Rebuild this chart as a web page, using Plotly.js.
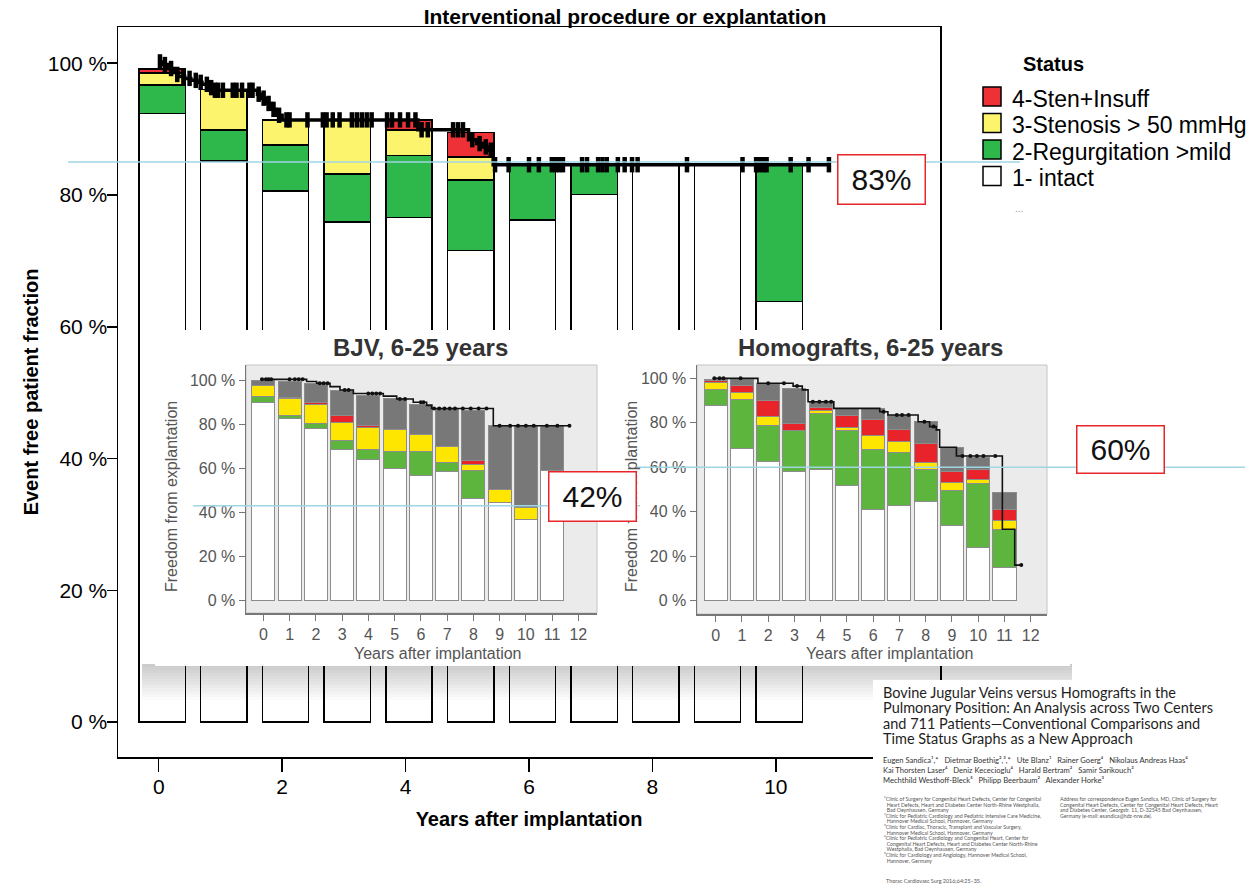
<!DOCTYPE html>
<html><head><meta charset="utf-8">
<script src="https://cdn.plot.ly/plotly-3.0.1.min.js"></script>
<style>
html,body{margin:0;padding:0;background:#fff;}
#main,#over{position:absolute;left:0;top:0;width:1259px;height:894px;}
#over{pointer-events:none;}
</style></head><body>
<div id="main"></div><div id="over"></div>
<script>
// ================= DATA =================
// Main chart: Interventional procedure or explantation (status fractions, %)
const mainYears   = [0,1,2,3,4,5,6,7,8,9,10];
const mainIntact  = [92.4,85.2,80.6,75.9,76.6,71.6,76.2,80.1,84.6,84.6,63.8];
const mainRegurg  = [4.3,4.7,7.0,7.3,9.4,10.7,8.4,4.5,0,0,20.8];
const mainSten    = [1.8,6.1,3.8,8.2,3.9,3.5,0,0,0,0,0];
const mainStenIns = [0.6,0,0,0,1.5,3.7,0,0,0,0,0];
// Kaplan-Meier (event free) step curve
const mainKmT = [0,0.08,0.16,0.24,0.32,0.42,0.52,0.62,0.7,0.8,0.88,1.6,1.66,1.74,1.82,1.9,2.0,4.2,5.02,5.15,5.25,5.36,5.42,10.88];
const mainKmS = [100.2,99.8,99.2,98.6,98.0,97.7,97.4,97.1,96.8,96.3,95.9,95.3,94.7,93.9,93.0,92.1,91.4,89.9,88.4,87.8,87.3,86.8,84.6,84.6];
// censored observations
const mainCensT = [0.02,0.1,0.2,0.3,0.4,0.5,0.6,0.68,0.78,0.85,
  0.91,0.96,1.04,1.2,1.26,1.35,1.47,1.52,
  1.62,1.7,1.78,1.86,1.95,
  2.07,2.12,2.41,2.66,2.72,2.82,2.93,3.13,3.21,3.29,3.37,3.45,3.70,3.78,3.91,4.04,4.16,
  4.26,4.36,4.77,4.85,4.93,
  5.08,5.2,5.3,5.38,
  5.45,5.67,6.0,6.16,6.37,6.43,6.49,6.55,6.86,6.94,7.12,7.19,7.26,7.44,7.55,7.67,7.76,8.56,9.46,9.68,9.74,9.8,9.85,10.24,10.53,10.86];
const mainCensS = [100.2,99.8,99.2,98.3,98.0,97.7,97.4,97.1,96.8,96.3,
  95.9,95.9,95.9,95.9,95.9,95.9,95.9,95.9,
  95.3,94.7,93.9,93.0,92.1,
  91.4,91.4,91.4,91.4,91.4,91.4,91.4,91.4,91.4,91.4,91.4,91.4,91.4,91.4,91.4,91.4,91.4,
  89.9,89.9,89.9,89.9,89.9,
  88.4,87.8,87.3,86.8,
  84.6,84.6,84.6,84.6,84.6,84.6,84.6,84.6,84.6,84.6,84.6,84.6,84.6,84.6,84.6,84.6,84.6,84.6,84.6,84.6,84.6,84.6,84.6,84.6,84.6,84.6];
const mainRefLine = 85.0;
const mainRefLabel = '83%';
const mainTickVals = [0,20,40,60,80,100];
const mainTickText = ['0 %','20 %','40 %','60 %','80 %','100 %'];
const mainXTicks = [0,2,4,6,8,10];
const legendTitle = 'Status';
const legendLabels = ['4-Sten+Insuff','3-Stenosis > 50 mmHg','2-Regurgitation >mild','1- intact'];

// Inset 1: BJV, 6-25 years (freedom from explantation, %)
const insetYears = [0,1,2,3,4,5,6,7,8,9,10,11];
const bjvIntact  = [90,82.6,77.8,68.3,63.8,60,56.6,58.5,46.1,44.3,36.9,59.2];
const bjvRegurg  = [2.5,1.1,2.6,4.1,4.9,7.8,11.2,4.0,13.1,0.3,0,0];
const bjvSten    = [5,7.7,8.7,8.4,9.9,9.9,7.6,7.3,2.3,5.6,5.4,0];
const bjvStenIns = [0,0.5,0.8,3.0,1.0,0,0,0,1.9,0,0,0];
const bjvExpl    = [2.5,7.3,8.3,11.4,13.3,14.0,13.3,17.1,23.0,29.1,37.0,20.1];
const bjvKmT = [-0.1,1.65,2.03,2.54,2.92,3.43,4.57,5.08,5.71,6.22,6.41,8.76,11.66];
const bjvKmS = [100.3,99.3,98.5,97.0,95.5,93.9,92.7,91.4,89.9,88.5,87.1,79.3,79.3];
const bjvCensT = [-0.05,0.1,0.2,0.3,1.0,1.2,1.35,1.5,2.15,2.3,2.45,3.1,3.25,4.0,4.15,4.3,4.45,5.2,5.4,6.0,6.1,6.5,6.7,6.9,7.1,7.3,7.6,7.9,8.2,8.5,9.0,9.4,9.7,10.0,10.3,10.8,11.2,11.66];
const bjvCensS = [100.3,100.3,100.3,100.3,100.3,100.3,100.3,100.3,98.5,98.5,98.5,95.5,95.5,93.9,93.9,93.9,93.9,91.4,91.4,89.9,89.9,87.1,87.1,87.1,87.1,87.1,87.1,87.1,87.1,87.1,79.3,79.3,79.3,79.3,79.3,79.3,79.3,79.3];
const bjvRefLine = 43.0;
const bjvRefLabel = '42%';

// Inset 2: Homografts, 6-25 years
const homIntact  = [87.6,68.5,62.8,58.0,58.8,51.6,40.8,43.0,44.8,34.0,24.0,14.8];
const homRegurg  = [7.2,22.2,15.9,18.5,25.2,24.9,27.0,23.7,14.0,15.5,28.8,17.3];
const homSten    = [3.4,3.0,4.1,0,1.5,1.5,6.7,4.8,3.3,3.6,1.9,3.9];
const homStenIns = [0.8,3.0,7.2,3.0,1.5,5.1,6.8,5.3,8.7,4.9,4.4,5.2];
const homExpl    = [0.6,2.6,7.8,16.0,2.5,3.4,5.2,6.7,9.7,11.0,5.4,7.4];
const homKmT = [-0.1,1.61,2.95,3.30,3.52,4.50,6.25,6.56,7.71,8.15,8.40,8.53,9.17,10.92,11.39,11.64];
const homKmS = [100,97.8,96.5,94.8,89.5,86.5,85.0,83.5,80.5,78.3,76.8,69.0,65.1,32.1,16.0,16.0];
const homCensT = [-0.05,0.15,0.3,0.95,2.0,2.6,3.1,3.7,3.95,4.2,4.4,6.4,6.9,7.1,7.35,7.95,8.3,9.4,9.7,9.95,10.2,10.65,11.64];
const homCensS = [100,100,100,100,97.8,97.8,96.5,89.5,89.5,89.5,89.5,85.0,83.5,83.5,83.5,80.5,78.3,65.1,65.1,65.1,65.1,65.1,16.0];
const homRefLine = 60.0;
const homRefLabel = '60%';
const insetXTicks = [0,1,2,3,4,5,6,7,8,9,10,11,12];

// Article header text
const articleTitle = ['Bovine Jugular Veins versus Homografts in the','Pulmonary Position: An Analysis across Two Centers','and 711 Patients\u2014Conventional Comparisons and','Time Status Graphs as a New Approach'];
const articleAuthors = [
 'Eugen Sandica\u00b9,*   Dietmar Boethig\u00b2,\u00b3,*   Ute Blanz\u00b9   Rainer Goerg\u2074   Nikolaus Andreas Haas\u2074',
 'Kai Thorsten Laser\u2074   Deniz Kececioglu\u2074   Harald Bertram\u00b2   Samir Sarikouch\u00b3',
 'Mechthild Westhoff-Bleck\u2075   Philipp Beerbaum\u00b2   Alexander Horke\u00b3'];
const articleAffil = [
 '\u00b9Clinic of Surgery for Congenital Heart Defects, Center for Congenital',
 '  Heart Defects, Heart and Diabetes Center North-Rhine Westphalia,',
 '  Bad Oeynhausen, Germany',
 '\u00b2Clinic for Pediatric Cardiology and Pediatric Intensive Care Medicine,',
 '  Hannover Medical School, Hannover, Germany',
 '\u00b3Clinic for Cardiac, Thoracic, Transplant and Vascular Surgery,',
 '  Hannover Medical School, Hannover, Germany',
 '\u2074Clinic for Pediatric Cardiology and Congenital Heart, Center for',
 '  Congenital Heart Defects, Heart and Diabetes Center North-Rhine',
 '  Westphalia, Bad Oeynhausen, Germany',
 '\u2075Clinic for Cardiology and Angiology, Hannover Medical School,',
 '  Hannover, Germany'];
const articleAddress = [
 'Address for correspondence Eugen Sandica, MD, Clinic of Surgery for',
 'Congenital Heart Defects, Center for Congenital Heart Defects, Heart',
 'and Diabetes Center, Georgstr. 11, D-32545 Bad Oeynhausen,',
 'Germany (e-mail: esandica@hdz-nrw.de).'];
const articleCitation = 'Thorac Cardiovasc Surg 2016;64:25\u201335.';

// ================= STYLE / HELPERS =================
const W = 1259, H = 894;
const FONT = 'Liberation Sans, Arial, sans-serif';
const ART = 'Lato, Open Sans, sans-serif';
const C = {red:'#ee3136', yellow:'#fbf46c', green:'#2eb84b', white:'#ffffff'};
const CI = {red:'#e8232a', yellow:'#ffe600', green:'#5db53d', white:'#ffffff', gray:'#787878'};
const nz = a => a.map(v => v === 0 ? null : v);

function bar(x, y, color, lc, lw, width, xa, ya, off) {
  const t = {type:'bar', x:x, y:nz(y), width:width, xaxis:xa, yaxis:ya,
    marker:{color:color, line:{color:lc, width:lw}}, showlegend:false, hoverinfo:'skip'};
  if (off !== undefined) t.offset = off;
  return t;
}
function ann(o) { return Object.assign({xref:'paper', yref:'paper', showarrow:false, xanchor:'center', yanchor:'middle'}, o); }

// ---------- MAIN FIGURE ----------
const ML = 118, MR = 319, MT = 27, MB = 137;
const mx = px => (px - ML) / (W - ML - MR);
const my = py => 1 - (py - MT) / (H - MT - MB);
const MBW = 0.75, MOFF = -0.32;

const mainTraces = [
  bar(mainYears, mainIntact, C.white, '#000', 1.5, MBW, 'x', 'y', MOFF),
  bar(mainYears, mainRegurg, C.green, '#000', 1.5, MBW, 'x', 'y', MOFF),
  bar(mainYears, mainSten, C.yellow, '#000', 1.5, MBW, 'x', 'y', MOFF),
  bar(mainYears, mainStenIns, C.red, '#000', 1.5, MBW, 'x', 'y', MOFF),
  {type:'scatter', mode:'lines', x:mainKmT, y:mainKmS, line:{shape:'hv', color:'#000', width:3.5},
    showlegend:false, hoverinfo:'skip'},
  {type:'scatter', mode:'markers', x:mainCensT, y:mainCensS,
    marker:{symbol:'line-ns-open', size:11, color:'#000', line:{color:'#000', width:4.5}}, showlegend:false, hoverinfo:'skip'}
];

const legColors = [C.red, C.yellow, C.green, C.white];
const legRows = [96.5, 123, 149.5, 176];
const mainShapes = [
  {type:'line', xref:'paper', yref:'y', x0:mx(68), x1:mx(1020), y0:mainRefLine, y1:mainRefLine,
    line:{color:'#9fd6e3', width:1.5}, layer:'above'}
];
const mainAnn = [
  ann({x:mx(881), y:my(179), text:mainRefLabel,
    width:86, height:48, borderpad:0, bgcolor:'#fff', bordercolor:'#e8262a', borderwidth:1.5,
    font:{family:FONT, size:30, color:'#111'}}),
  ann({x:mx(1021), y:my(64), xanchor:'left', text:'<b>'+legendTitle+'</b>', font:{family:FONT, size:20, color:'#000'}}),
  ann({x:mx(1013), y:my(209), xanchor:'left', text:'...', font:{family:FONT, size:10, color:'#999'}})
];
legendLabels.forEach((lab, i) => {
  mainShapes.push({type:'rect', xref:'paper', yref:'paper', x0:mx(983), x1:mx(1001),
    y0:my(legRows[i]-9.5), y1:my(legRows[i]+9.5), fillcolor:legColors[i], line:{color:'#000', width:1.5}});
  mainAnn.push(ann({x:mx(1010), y:my(legRows[i]+2), xanchor:'left', text:lab, font:{family:FONT, size:23, color:'#000'}}));
});

const mainLayout = {
  width:W, height:H, margin:{l:ML, r:MR, t:MT, b:MB, pad:0},
  paper_bgcolor:'#fff', plot_bgcolor:'#fff', barmode:'stack', showlegend:false,
  font:{family:FONT, color:'#000'},
  title:{text:'<b>Interventional procedure or explantation</b>', x:625/W, xref:'container', xanchor:'center',
    y:1-17/H, yref:'container', yanchor:'middle', font:{family:FONT, size:21, color:'#000'}},
  xaxis:{range:[-0.66,12.66], tickvals:mainXTicks, ticks:'outside', ticklen:13, tickwidth:1.5, tickcolor:'#000',
    showline:true, mirror:true, linecolor:'#000', linewidth:1.5, showgrid:false, zeroline:false,
    tickfont:{family:FONT, size:21, color:'#000'}, automargin:false, ticklabelstandoff:-3,
    title:{text:'<b>Years after implantation</b>', standoff:15, font:{family:FONT, size:20, color:'#000'}}},
  yaxis:{range:[-5.3,105.5], tickvals:mainTickVals, ticktext:mainTickText, ticks:'outside', ticklen:10, tickwidth:1.5,
    tickcolor:'#000', showline:true, mirror:true, linecolor:'#000', linewidth:1.5, showgrid:false, zeroline:false,
    tickfont:{family:FONT, size:21, color:'#000'}, automargin:false, ticklabelstandoff:-5,
    title:{text:'<b>Event free patient fraction</b>', standoff:4, font:{family:FONT, size:20, color:'#000'}}},
  shapes:mainShapes, annotations:mainAnn
};

Plotly.newPlot('main', mainTraces, mainLayout, {staticPlot:true, displayModeBar:false});

// ---------- OVERLAY FIGURE (insets + article header) ----------
const ox = px => px / W;
const oy = py => 1 - py / H;
const BW = 0.88;
const overTraces = [
  bar(insetYears, bjvIntact, CI.white, '#8c8c8c', 1, BW, 'x', 'y'),
  bar(insetYears, bjvRegurg, CI.green, '#8c8c8c', 1, BW, 'x', 'y'),
  bar(insetYears, bjvSten, CI.yellow, '#8c8c8c', 1, BW, 'x', 'y'),
  bar(insetYears, bjvStenIns, CI.red, '#8c8c8c', 1, BW, 'x', 'y'),
  bar(insetYears, bjvExpl, CI.gray, '#8c8c8c', 1, BW, 'x', 'y'),
  {type:'scatter', mode:'lines', x:bjvKmT, y:bjvKmS, xaxis:'x', yaxis:'y', line:{shape:'hv', color:'#111', width:1.6},
    showlegend:false, hoverinfo:'skip'},
  {type:'scatter', mode:'markers', x:bjvCensT, y:bjvCensS, xaxis:'x', yaxis:'y', marker:{size:4, color:'#111'},
    showlegend:false, hoverinfo:'skip'},
  bar(insetYears, homIntact, CI.white, '#8c8c8c', 1, BW, 'x2', 'y2'),
  bar(insetYears, homRegurg, CI.green, '#8c8c8c', 1, BW, 'x2', 'y2'),
  bar(insetYears, homSten, CI.yellow, '#8c8c8c', 1, BW, 'x2', 'y2'),
  bar(insetYears, homStenIns, CI.red, '#8c8c8c', 1, BW, 'x2', 'y2'),
  bar(insetYears, homExpl, CI.gray, '#8c8c8c', 1, BW, 'x2', 'y2'),
  {type:'scatter', mode:'lines', x:homKmT, y:homKmS, xaxis:'x2', yaxis:'y2', line:{shape:'hv', color:'#111', width:1.6},
    showlegend:false, hoverinfo:'skip'},
  {type:'scatter', mode:'markers', x:homCensT, y:homCensS, xaxis:'x2', yaxis:'y2', marker:{size:4, color:'#111'},
    showlegend:false, hoverinfo:'skip'}
];

const overShapes = [];
// soft drop shadow under the inset panel
for (let i = 0; i < 12; i++) {
  overShapes.push({type:'rect', xref:'paper', yref:'paper', x0:ox(142), x1:ox(1072), y0:oy(664+i*3), y1:oy(667+i*3),
    fillcolor:'rgba(0,0,0,'+(0.2*(1-i/12)).toFixed(3)+')', line:{width:0}, layer:'below'});
}
overShapes.push({type:'rect', xref:'paper', yref:'paper', x0:ox(155), x1:ox(1070), y0:oy(666), y1:oy(330),
  fillcolor:'#fff', line:{width:0}, layer:'below'});
overShapes.push({type:'rect', xref:'paper', yref:'paper', x0:ox(246), x1:ox(597), y0:oy(613), y1:oy(365),
  fillcolor:'#ebebeb', line:{color:'#c4c4c4', width:1}, layer:'below'});
overShapes.push({type:'rect', xref:'paper', yref:'paper', x0:ox(697), x1:ox(1047), y0:oy(614), y1:oy(365),
  fillcolor:'#ebebeb', line:{color:'#c4c4c4', width:1}, layer:'below'});
overShapes.push({type:'rect', xref:'paper', yref:'paper', x0:ox(873), x1:ox(1259), y0:oy(894), y1:oy(680),
  fillcolor:'#fff', line:{width:0}, layer:'below'});
overShapes.push({type:'line', xref:'paper', yref:'y', x0:ox(193), x1:ox(640), y0:bjvRefLine, y1:bjvRefLine,
  line:{color:'#9fd6e3', width:1.5}, layer:'above'});
overShapes.push({type:'line', xref:'paper', yref:'y2', x0:ox(637), x1:ox(1245), y0:homRefLine, y1:homRefLine,
  line:{color:'#9fd6e3', width:1.5}, layer:'above'});

const insetTxt = {family:FONT, size:16, color:'#555'};
const overAnn = [
  ann({x:ox(420), y:oy(347), text:'<b>BJV, 6-25 years</b>', font:{family:FONT, size:24, color:'#333'}}),
  ann({x:ox(870), y:oy(347), text:'<b>Homografts, 6-25 years</b>', font:{family:FONT, size:24, color:'#333'}}),
  ann({x:ox(438), y:oy(653), text:'Years after implantation', font:insetTxt}),
  ann({x:ox(890), y:oy(653), text:'Years after implantation', font:insetTxt}),
  ann({x:ox(172), y:oy(497), text:'Freedom from explantation', textangle:-90, font:insetTxt}),
  ann({x:ox(632), y:oy(497), text:'Freedom from explantation', textangle:-90, font:insetTxt}),
  ann({x:ox(592), y:oy(496), text:bjvRefLabel,
    width:86, height:48, borderpad:0, bgcolor:'#fff', bordercolor:'#e8262a', borderwidth:1.5,
    font:{family:FONT, size:30, color:'#111'}}),
  ann({x:ox(1120), y:oy(449), text:homRefLabel,
    width:86, height:46, borderpad:0, bgcolor:'#fff', bordercolor:'#e8262a', borderwidth:1.5,
    font:{family:FONT, size:30, color:'#111'}})
];
const titleY = [692, 707.5, 723, 738.5];
articleTitle.forEach((t, i) => overAnn.push(ann({x:ox(881), y:oy(titleY[i]), xanchor:'left',
  text:t, font:{family:ART, size:14.5, color:'#1e1e1e'}})));
const authY = [760, 770, 780];
articleAuthors.forEach((t, i) => overAnn.push(ann({x:ox(881), y:oy(authY[i]), xanchor:'left',
  text:t, font:{family:ART, size:7.6, color:'#333'}})));
articleAffil.forEach((t, i) => overAnn.push(ann({x:ox(882), y:oy(799 + i*5.6), xanchor:'left',
  text:t, font:{family:ART, size:5.2, color:'#555'}})));
articleAddress.forEach((t, i) => overAnn.push(ann({x:ox(1058), y:oy(799 + i*5.6), xanchor:'left',
  text:t, font:{family:ART, size:5.2, color:'#555'}})));
overAnn.push(ann({x:ox(884), y:oy(881), xanchor:'left', text:articleCitation, font:{family:ART, size:5.4, color:'#555'}}));

const insetAxisX = (dom, rng) => ({domain:dom, range:rng, tickvals:insetXTicks, ticks:'outside', ticklen:6, tickwidth:1,
  tickcolor:'#777', showline:true, linecolor:'#777', linewidth:1.5, showgrid:false, zeroline:false, tickfont:insetTxt,
  automargin:false, fixedrange:true});
const insetAxisY = (dom, rng) => ({domain:dom, range:rng, tickvals:mainTickVals, ticktext:mainTickText, ticks:'outside',
  ticklen:6, tickwidth:1, tickcolor:'#777', showline:true, linecolor:'#777', linewidth:1.5, showgrid:false, zeroline:false,
  tickfont:insetTxt, automargin:false, fixedrange:true});

const overLayout = {
  width:W, height:H, margin:{l:0, r:0, t:0, b:0, pad:0},
  paper_bgcolor:'rgba(0,0,0,0)', plot_bgcolor:'rgba(0,0,0,0)', barmode:'stack', showlegend:false,
  font:{family:FONT},
  xaxis:Object.assign(insetAxisX([246/W, 597/W], [-0.66,12.71]), {anchor:'y'}),
  yaxis:Object.assign(insetAxisY([1-613/H, 1-365/H], [-5.6,106.8]), {anchor:'x'}),
  xaxis2:Object.assign(insetAxisX([697/W, 1047/W], [-0.71,12.62]), {anchor:'y2'}),
  yaxis2:Object.assign(insetAxisY([1-614/H, 1-365/H], [-6.0,106.0]), {anchor:'x2'}),
  shapes:overShapes, annotations:overAnn
};

Plotly.newPlot('over', overTraces, overLayout, {staticPlot:true, displayModeBar:false});
</script>
</body></html>
